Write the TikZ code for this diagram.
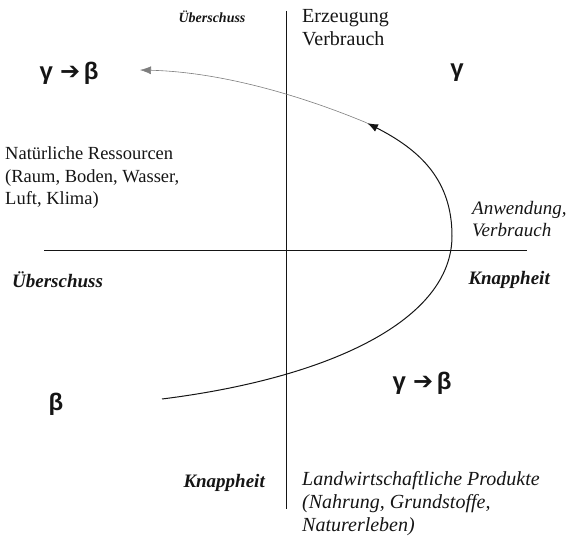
\documentclass[tikz,border=0pt]{standalone}
\usepackage{fontspec}
\setmainfont{Liberation Serif}
\newfontfamily\greekfont{Liberation Sans}
\newfontfamily\arrowfont{DejaVu Sans}
\usetikzlibrary{arrows.meta}
\definecolor{scanink}{HTML}{151515}
\newcommand{\shift}{\hspace{0.3em}{\arrowfont\bfseries ➔}\hspace{0.15em}}

\begin{document}
\begin{tikzpicture}[x=1pt,y=-1pt,
  point/.style={coordinate},
  label/.style={inner sep=0pt, text=scanink, align=left, font=\fontsize{20}{23}\selectfont},
  slanted/.style={label, font=\fontsize{20}{23}\selectfont\itshape},
  axisname/.style={inner sep=0pt, text=scanink, font=\fontsize{19}{22}\selectfont\bfseries\itshape},
  state/.style={inner sep=0pt, text=scanink, font=\fontsize{24}{28}\selectfont\greekfont\bfseries},
  axis/.style={draw=scanink, line width=0.9pt},
  curve/.style={draw=scanink, line width=1pt, -{Latex[length=11pt,width=8pt]}},
  faint/.style={draw=scanink!55, line width=0.6pt, -{Latex[length=11pt,width=8pt]}}]
\useasboundingbox (0,0) rectangle (574,537);

% axes
\node[point] (ytop) at (286,11) {};
\node[point] (ybot) at (286,509) {};
\node[point] (xleft) at (44,250) {};
\node[point] (xright) at (527,250) {};
\draw[axis] (ytop) -- (ybot);
\draw[axis] (xleft) -- (xright);

% curve
\node[point] (start) at (162,399) {};
\node[point] (turn) at (452,236) {};
\node[point] (mid) at (367,123) {};
\node[point] (end) at (140,70) {};
\draw[curve] (start) .. controls (330,378) and (452,320) .. (turn)
  .. controls (452,180) and (420,150) .. (mid);
\draw[faint] (mid) .. controls (300,95) and (220,72) .. (end);

% labels
\node[axisname, font=\fontsize{14}{16}\selectfont\bfseries\itshape] (ueber1) at (212,17) {Überschuss};
\node[label, anchor=north west] (erz) at (302,9) {Erzeugung\\Verbrauch};
\node[state] (gb1) at (69,73) {γ\shift β};
\node[state] (g1) at (457,73) {γ};
\node[label, anchor=west, font=\fontsize{18.5}{22.5}\selectfont] (res) at (5,178) {Natürliche Ressourcen\\(Raum, Boden, Wasser,\\Luft, Klima)};
\node[slanted, anchor=west, font=\fontsize{19}{22.5}\selectfont\itshape] (anw) at (472,219) {Anwendung,\\Verbrauch};
\node[axisname, anchor=west] (ueber2) at (12,280) {Überschuss};
\node[axisname, anchor=east] (knapp1) at (550,280) {Knappheit};
\node[state] (b1) at (56,404) {β};
\node[state] (gb2) at (422,383) {γ\shift β};
\node[axisname, anchor=east] (knapp2) at (265,483) {Knappheit};
\node[slanted, anchor=west] (prod) at (302,504) {Landwirtschaftliche Produkte\\(Nahrung, Grundstoffe,\\Naturerleben)};
\end{tikzpicture}
\end{document}
